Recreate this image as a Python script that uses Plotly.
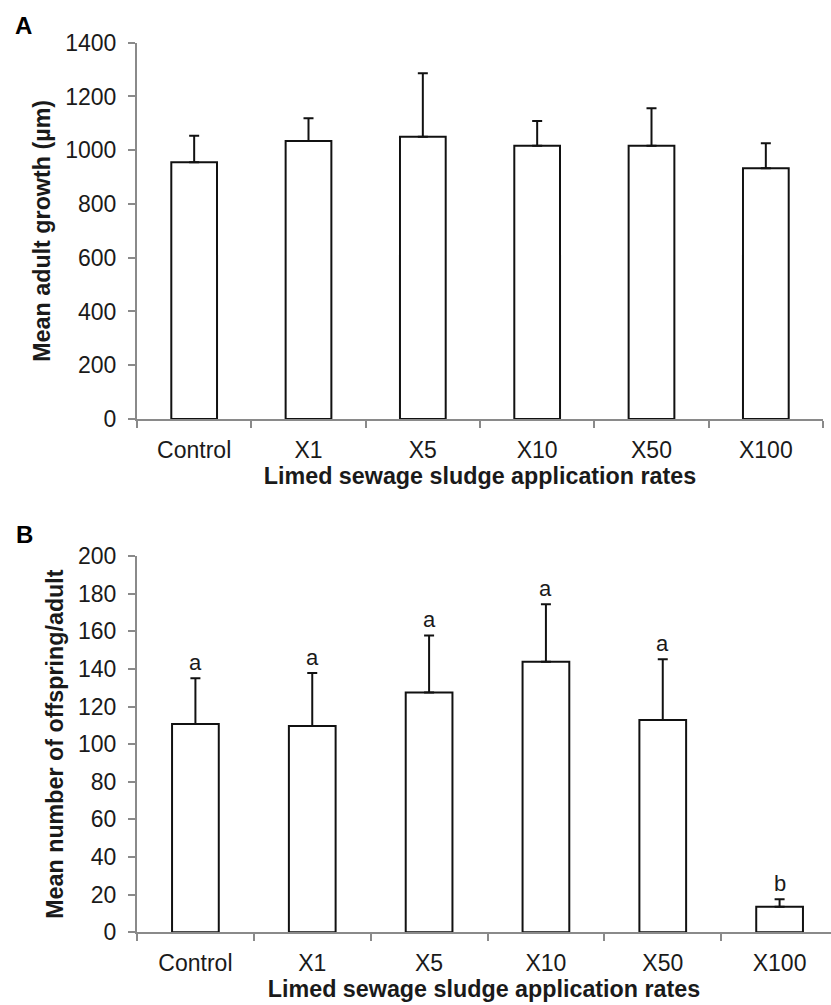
import plotly.graph_objects as go

categories = ["Control", "X1", "X5", "X10", "X50", "X100"]
growth_mean = [955, 1034, 1050, 1017, 1017, 933]
growth_err = [99, 85, 236, 92, 139, 93]
offspring_mean = [110.7, 109.6, 127.5, 143.8, 112.8, 13.6]
offspring_err = [24.3, 28.2, 30.3, 30.5, 32.3, 3.9]
offspring_letters = ["a", "a", "a", "a", "a", "b"]
growth_ticks = [0, 200, 400, 600, 800, 1000, 1200, 1400]
offspring_ticks = [0, 20, 40, 60, 80, 100, 120, 140, 160, 180, 200]

W, H = 831, 1005
FONT = "Liberation Sans, Arial, Helvetica, sans-serif"
TXT = "#1a1a1a"
AXC = "#8a8a8a"

fig = go.Figure()

bar_style = dict(marker=dict(color="white", line=dict(color="#111111", width=2)),
                 width=0.4, showlegend=False)


def err(vals):
    return dict(type="data", symmetric=False, array=vals, arrayminus=[0] * len(vals),
                visible=True, color="#111111", thickness=2, width=5)


fig.add_trace(go.Bar(x=categories, y=growth_mean, error_y=err(growth_err),
                     xaxis="x", yaxis="y", **bar_style))
fig.add_trace(go.Bar(x=categories, y=offspring_mean, error_y=err(offspring_err),
                     xaxis="x2", yaxis="y2", **bar_style))

tickfont = dict(family=FONT, size=23, color=TXT)
titlefont = dict(family=FONT, size=23.3, color=TXT, weight="bold")

common_x = dict(type="category", showline=True, linecolor=AXC, linewidth=2,
                ticks="outside", tickson="boundaries", ticklen=7, tickcolor=AXC,
                tickwidth=2, tickfont=tickfont, showgrid=False, zeroline=False,
                ticklabelstandoff=9, automargin=False, fixedrange=True)
common_y = dict(showline=True, linecolor=AXC, linewidth=2, ticks="outside",
                ticklen=7, tickcolor=AXC, tickwidth=2, tickfont=tickfont,
                showgrid=False, zeroline=False, ticklabelstandoff=7, automargin=False)

x0 = 137 / W
fig.update_layout(
    template="none",
    width=W, height=H,
    margin=dict(l=0, r=0, t=0, b=0),
    paper_bgcolor="white", plot_bgcolor="white",
    xaxis=dict(domain=[x0, 823 / W], anchor="y", range=[-0.5, 5.5],
               title=dict(text="Limed sewage sludge application rates", font=titlefont,
                          standoff=4),
               **common_x),
    yaxis=dict(domain=[1 - 419 / H, 1 - 42.7 / H], anchor="x", range=[0, 1400],
               tickvals=growth_ticks,
               title=dict(text="Mean adult growth (µm)", font=titlefont, standoff=8),
               **common_y),
    xaxis2=dict(domain=[x0, 1.0], anchor="y2", range=[-0.5, 5.44],
                title=dict(text="Limed sewage sludge application rates", font=titlefont,
                           standoff=2),
                **common_x),
    yaxis2=dict(domain=[1 - 932.3 / H, 1 - 556 / H], anchor="x2", range=[0, 200],
                tickvals=offspring_ticks,
                title=dict(text="Mean number of offspring/adult", font=titlefont,
                           standoff=8),
                **common_y),
    bargap=0.6,
)

annotations = []
for c, m, e, t in zip(categories, offspring_mean, offspring_err, offspring_letters):
    annotations.append(dict(x=c, y=m + e, xref="x2", yref="y2", text=t,
                            showarrow=False, yanchor="bottom", yshift=1,
                            font=dict(family=FONT, size=22, color=TXT)))
annotations.append(dict(x=23 / W, y=1 - 26 / H, xref="paper", yref="paper", text="<b>A</b>",
                        showarrow=False, xanchor="center", yanchor="middle",
                        font=dict(family=FONT, size=24, color="#000000")))
annotations.append(dict(x=24 / W, y=1 - 534 / H, xref="paper", yref="paper", text="<b>B</b>",
                        showarrow=False, xanchor="center", yanchor="middle",
                        font=dict(family=FONT, size=24, color="#000000")))
fig.update_layout(annotations=annotations)

fig.write_html("out.html",
               config={"displayModeBar": False},
               post_script="document.body.style.margin='0';document.body.style.overflow='hidden';")
